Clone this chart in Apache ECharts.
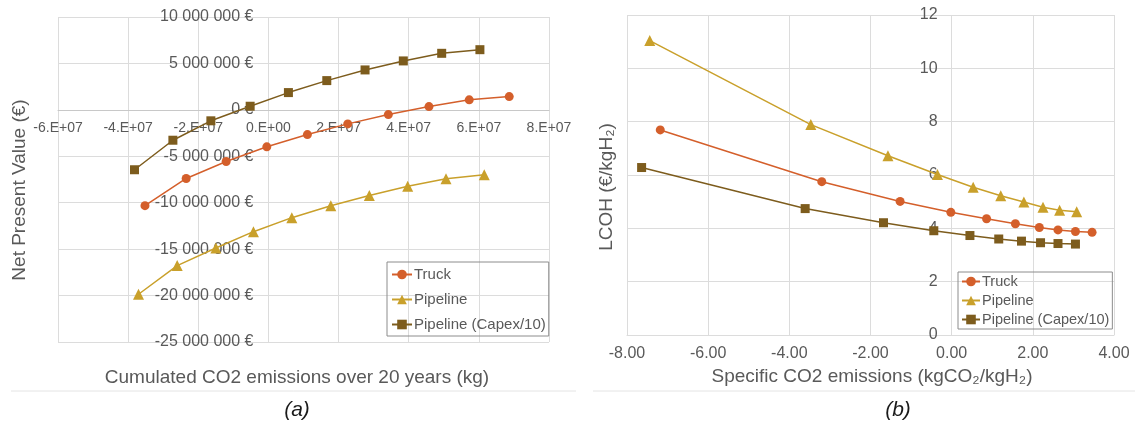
<!DOCTYPE html>
<html>
<head>
<meta charset="utf-8">
<script src="https://cdn.jsdelivr.net/npm/echarts@6/dist/echarts.min.js"></script>
<style>
  html, body { margin: 0; padding: 0; background: #fff; }
  #app { width: 1135px; height: 425px; }
</style>
</head>
<body>
<div id="app"></div>
<script>
// (a) cumulated CO2 emissions over 20 years (kg) vs NPV (€)
const truckCo2A = [-3.52e7, -2.345e7, -1.205e7, -0.046e7, 1.111e7, 2.262e7, 3.419e7, 4.578e7, 5.726e7, 6.866e7];
const truckNpvA = [-10.32e6, -7.39e6, -5.56e6, -3.98e6, -2.66e6, -1.51e6, -0.51e6, 0.35e6, 1.08e6, 1.43e6];
const pipeCo2A = [-3.704e7, -2.601e7, -1.499e7, -0.427e7, 0.667e7, 1.778e7, 2.877e7, 3.971e7, 5.063e7, 6.154e7];
const pipeNpvA = [-19.86e6, -16.77e6, -14.88e6, -13.12e6, -11.61e6, -10.32e6, -9.22e6, -8.22e6, -7.42e6, -6.99e6];
const capexCo2A = [-3.818e7, -2.724e7, -1.641e7, -0.521e7, 0.57e7, 1.664e7, 2.755e7, 3.846e7, 4.94e7, 6.03e7];
const capexNpvA = [-6.45e6, -3.27e6, -1.18e6, 0.39e6, 1.86e6, 3.15e6, 4.30e6, 5.27e6, 6.09e6, 6.48e6];

// (b) specific CO2 emissions (kgCO2/kgH2) vs LCOH (€/kgH2)
const truckCo2B = [-7.18, -3.20, -1.27, -0.02, 0.86, 1.57, 2.16, 2.62, 3.05, 3.46];
const truckLcoh = [7.69, 5.75, 5.01, 4.60, 4.36, 4.17, 4.03, 3.94, 3.88, 3.85];
const pipeCo2B = [-7.44, -3.47, -1.57, -0.35, 0.53, 1.21, 1.78, 2.25, 2.66, 3.08];
const pipeLcoh = [11.04, 7.89, 6.72, 6.02, 5.54, 5.22, 4.99, 4.79, 4.68, 4.62];
const capexCo2B = [-7.64, -3.61, -1.68, -0.44, 0.45, 1.16, 1.72, 2.19, 2.62, 3.05];
const capexLcoh = [6.28, 4.74, 4.21, 3.91, 3.73, 3.60, 3.52, 3.46, 3.43, 3.41];

const seriesNames = ['Truck', 'Pipeline', 'Pipeline (Capex/10)'];
const colors = ['#d45f2b', '#c9a02b', '#7d5c1d'];
const symbols = ['circle', 'triangle', 'rect'];
const symbolSizes = [9, 11, 9];

const zip = (xs, ys) => xs.map((x, i) => [x, ys[i]]);
const dataA = [zip(truckCo2A, truckNpvA), zip(pipeCo2A, pipeNpvA), zip(capexCo2A, capexNpvA)];
const dataB = [zip(truckCo2B, truckLcoh), zip(pipeCo2B, pipeLcoh), zip(capexCo2B, capexLcoh)];

const FONT = '"Liberation Sans", Arial, sans-serif';
const gray = '#595959';
const gridColor = '#dcdcdc';

const W = 1135, H = 425;
const gA = { left: 58, top: 17, right: 586, bottom: 83 };
const gB = { left: 627, top: 15, right: 21, bottom: 90 };
const xA = [-6e7, 8e7], yA = [-25e6, 10e6];
const xB = [-8, 4], yB = [0, 12];

// axes cross at zero: shift the axes inwards to the zero position
const zeroOffX = (g, r) => (W - g.left - g.right) * (0 - r[0]) / (r[1] - r[0]);
const zeroOffY = (g, r) => (H - g.top - g.bottom) * (0 - r[0]) / (r[1] - r[0]);

const fmtEuro = v => String(v).replace(/\B(?=(\d{3})+(?!\d))/g, ' ') + ' €';
const fmtSci = v => v === 0 ? '0.E+00' : (v / 1e7) + '.E+07';

function mkSeries(data, idx) {
    return data.map((d, i) => ({
        name: seriesNames[i],
        type: 'line',
        xAxisIndex: idx,
        yAxisIndex: idx,
        data: d,
        symbol: symbols[i],
        symbolSize: symbolSizes[i],
        showSymbol: true,
        lineStyle: { width: 1.5, color: colors[i] },
        itemStyle: { color: colors[i] },
        emphasis: { disabled: true }
    }));
}

const legendBase = {
    orient: 'vertical',
    data: seriesNames,
    itemWidth: 20,
    itemHeight: 12,
    borderColor: '#8c8c8c',
    borderWidth: 1,
    selectedMode: false,
    textStyle: { fontFamily: FONT, fontSize: 15, color: gray, padding: [0, 0, 0, -3] }
};

const option = {
    animation: false,
    color: colors,
    textStyle: { fontFamily: FONT },
    grid: [
        Object.assign({ outerBoundsMode: 'none', containLabel: false }, gA),
        Object.assign({ outerBoundsMode: 'none', containLabel: false }, gB)
    ],
    xAxis: [
        {
            type: 'value', gridIndex: 0, min: xA[0], max: xA[1], interval: 2e7,
            position: 'bottom', offset: -zeroOffY(gA, yA),
            axisLine: { onZero: false, lineStyle: { color: '#c8c8c8' } },
            axisTick: { show: false },
            splitLine: { lineStyle: { color: gridColor } },
            axisLabel: { formatter: fmtSci, fontSize: 14, color: gray, margin: 11, fontFamily: FONT }
        },
        {
            type: 'value', gridIndex: 1, min: xB[0], max: xB[1], interval: 2,
            position: 'bottom',
            axisLine: { onZero: false, lineStyle: { color: gridColor } },
            axisTick: { show: false },
            splitLine: { lineStyle: { color: gridColor } },
            axisLabel: { formatter: v => v.toFixed(2), fontSize: 16, color: gray, margin: 11, fontFamily: FONT }
        }
    ],
    yAxis: [
        {
            type: 'value', gridIndex: 0, min: yA[0], max: yA[1], interval: 5e6,
            position: 'left', offset: -zeroOffX(gA, xA),
            axisLine: { show: false, onZero: false },
            axisTick: { show: false },
            splitLine: { lineStyle: { color: gridColor } },
            axisLabel: { formatter: fmtEuro, fontSize: 16, color: gray, margin: 15, fontFamily: FONT }
        },
        {
            type: 'value', gridIndex: 1, min: yB[0], max: yB[1], interval: 2,
            position: 'left', offset: -zeroOffX(gB, xB),
            axisLine: { show: false, onZero: false },
            axisTick: { show: false },
            splitLine: { lineStyle: { color: gridColor } },
            axisLabel: { fontSize: 16, color: gray, margin: 14, fontFamily: FONT }
        }
    ],
    legend: [
        Object.assign({}, legendBase, { left: 387, top: 262, padding: [5, 3, 4, 4], itemGap: 10 }),
        Object.assign({}, legendBase, {
            left: 958, top: 272, padding: [2, 3, 2, 3], itemGap: 4, itemWidth: 18,
            textStyle: { fontFamily: FONT, fontSize: 14.5, color: gray, padding: [0, 0, 0, -3] }
        })
    ],
    graphic: [
        { type: 'text', x: 20, y: 190, rotation: Math.PI / 2,
          style: { text: 'Net Present Value (€)', font: '19px ' + FONT, fill: gray, textAlign: 'center', textVerticalAlign: 'middle' } },
        { type: 'text', x: 297, y: 378,
          style: { text: 'Cumulated CO2 emissions over 20 years (kg)', font: '19px ' + FONT, fill: gray, textAlign: 'center', textVerticalAlign: 'middle' } },
        { type: 'text', x: 607, y: 187, rotation: Math.PI / 2,
          style: { text: 'LCOH (€/kgH₂)', font: '19px ' + FONT, fill: gray, textAlign: 'center', textVerticalAlign: 'middle' } },
        { type: 'text', x: 872, y: 377,
          style: { text: 'Specific CO2 emissions (kgCO₂/kgH₂)', font: '19px ' + FONT, fill: gray, textAlign: 'center', textVerticalAlign: 'middle' } },
        { type: 'line', shape: { x1: 11, y1: 391, x2: 576, y2: 391 }, style: { stroke: '#e4e4e4', lineWidth: 1 } },
        { type: 'line', shape: { x1: 593, y1: 391, x2: 1135, y2: 391 }, style: { stroke: '#e4e4e4', lineWidth: 1 } },
        { type: 'text', x: 297, y: 410,
          style: { text: '(a)', font: 'italic 21px ' + FONT, fill: '#1a1a1a', textAlign: 'center', textVerticalAlign: 'middle' } },
        { type: 'text', x: 898, y: 410,
          style: { text: '(b)', font: 'italic 21px ' + FONT, fill: '#1a1a1a', textAlign: 'center', textVerticalAlign: 'middle' } }
    ],
    series: mkSeries(dataA, 0).concat(mkSeries(dataB, 1))
};

echarts.init(document.getElementById('app')).setOption(option);
</script>
</body>
</html>
